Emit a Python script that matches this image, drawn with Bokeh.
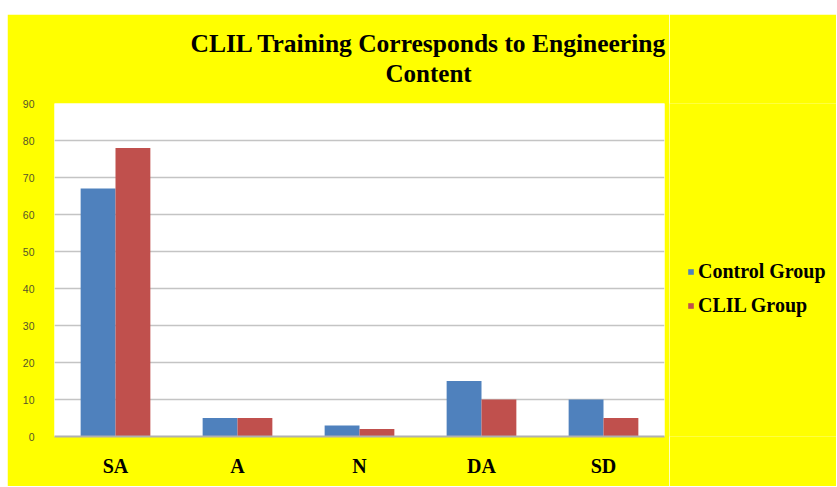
from bokeh.plotting import figure
from bokeh.models import ColumnDataSource, FactorRange, Range1d, Title, Legend, LegendItem, Spacer
from bokeh.transform import dodge
from bokeh.layouts import column, row
from bokeh.embed import file_html
from bokeh.resources import INLINE

categories = ["SA", "A", "N", "DA", "SD"]
control_group = [67, 5, 3, 15, 10]
clil_group = [78, 5, 2, 10, 5]
y_ticks = [0, 10, 20, 30, 40, 50, 60, 70, 80, 90]
title_lines = ["CLIL Training Corresponds to Engineering", "Content"]
series_names = ["Control Group", "CLIL Group"]
series_colors = ["#4F81BD", "#C0504D"]

src = ColumnDataSource(dict(cat=categories, control=control_group, clil=clil_group))

YELLOW = "#FFFF00"
p = figure(x_range=FactorRange(*categories, range_padding=0), y_range=Range1d(0, 90),
           width=662, height=472, output_backend="svg", toolbar_location=None,
           min_border_left=47, min_border_right=5, min_border_top=89, min_border_bottom=50)
p.background_fill_color = "white"
p.border_fill_color = YELLOW
p.outline_line_color = None

bw = 1 / 3.5
p.vbar(x=dodge("cat", -bw / 2, range=p.x_range), top="control", width=bw, source=src,
       fill_color=series_colors[0], line_color=None)
p.vbar(x=dodge("cat", bw / 2, range=p.x_range), top="clil", width=bw, source=src,
       fill_color=series_colors[1], line_color=None)

p.yaxis.ticker = y_ticks
p.yaxis.axis_line_color = None
p.yaxis.major_tick_line_color = None
p.yaxis.minor_tick_line_color = None
p.yaxis.major_label_standoff = 14
p.yaxis.major_label_text_font = "Liberation Sans"
p.yaxis.major_label_text_font_size = "10.5px"
p.yaxis.major_label_text_color = "#55552a"

p.xaxis.axis_line_color = "#b0b0b0"
p.xaxis.axis_line_width = 2
p.xaxis.major_tick_line_color = None
p.xaxis.minor_tick_line_color = None
p.xaxis.major_label_standoff = 12
p.xaxis.major_label_text_font = "Liberation Serif"
p.xaxis.major_label_text_font_style = "bold"
p.xaxis.major_label_text_font_size = "20px"
p.xaxis.major_label_text_color = "black"

p.xgrid.grid_line_color = None
p.ygrid.grid_line_color = "#c4c4c4"
p.ygrid.grid_line_width = 1.5

# spacer title nearest the frame, then the two title lines
p.add_layout(Title(text=" ", standoff=6, text_font_size="8px"), "above")
p.add_layout(Title(text=title_lines[1], align="left", offset=331, standoff=0,
                   text_font="Liberation Serif", text_font_style="bold",
                   text_font_size="25px", text_color="black"), "above")
p.add_layout(Title(text=title_lines[0], align="left", offset=136, standoff=0,
                   text_font="Liberation Serif", text_font_style="bold",
                   text_font_size="25.5px", text_color="black"), "above")

# legend panel as its own figure on the right
lg = figure(width=167, height=472, output_backend="svg", toolbar_location=None,
            x_axis_type=None, y_axis_type=None, min_border=0,
            x_range=Range1d(0, 1), y_range=Range1d(0, 1))
lg.background_fill_color = YELLOW
lg.border_fill_color = YELLOW
lg.outline_line_color = None
lg.xgrid.grid_line_color = None
lg.ygrid.grid_line_color = None
proxies = [lg.vbar(x=[-5], top=[0], width=0.01, fill_color=c, line_color=None) for c in series_colors]
legend = Legend(items=[LegendItem(label=n, renderers=[r]) for n, r in zip(series_names, proxies)],
                location=(18, 119), background_fill_alpha=0, border_line_color=None,
                padding=0, margin=0, spacing=11, glyph_width=7, glyph_height=7,
                label_standoff=4, label_height=20,
                label_text_font="Liberation Serif", label_text_font_style="bold",
                label_text_font_size="20px", label_text_color="black")
lg.add_layout(legend, "center")

layout = column(Spacer(height=14, width=836),
                row(Spacer(width=7, height=472), p, lg, spacing=0), spacing=0)
open("out.html", "w").write(file_html(layout, INLINE))
